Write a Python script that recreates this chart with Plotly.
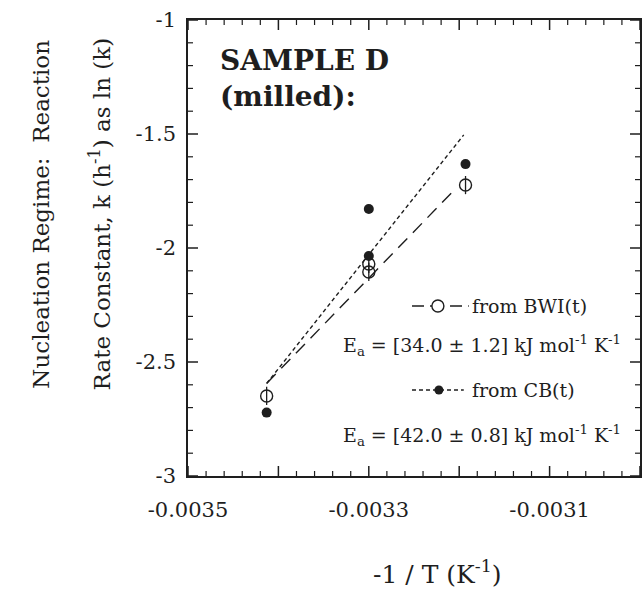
import plotly.graph_objects as go

# ---- data ----
x_bwi = [-0.003413, -0.0033, -0.0033, -0.003193]
y_bwi = [-2.649, -2.070, -2.105, -1.724]

x_cb = [-0.003413, -0.0033, -0.0033, -0.003193]
y_cb = [-2.722, -1.829, -2.035, -1.632]

fit_bwi_x = [-0.003413, -0.003207]
fit_bwi_y = [-2.594, -1.752]
fit_cb_x = [-0.003413, -0.003195]
fit_cb_y = [-2.594, -1.504]

x_labels = {"-0.0035": "-0.0035", "-0.0034": " ", "-0.0033": "-0.0033",
            "-0.0032": " ", "-0.0031": "-0.0031", "-0.0030": " "}
y_labels = ["-3", "-2.5", "-2", "-1.5", "-1"]

MINUS = "\u2212"
x_alias = {}
for k, v in x_labels.items():
    x_alias[k] = v
    x_alias[k.replace("-", MINUS)] = v
y_alias = {}
for v in y_labels:
    y_alias[v] = v
    y_alias[v.replace("-", MINUS)] = v

INK = "#1e1e1e"
FONT = "DejaVu Serif"

fig = go.Figure()
fig.add_trace(go.Scatter(x=fit_bwi_x, y=fit_bwi_y, mode="lines",
                         line=dict(color=INK, width=1.4, dash="13px,8px"),
                         showlegend=False, hoverinfo="skip"))
fig.add_trace(go.Scatter(x=fit_cb_x, y=fit_cb_y, mode="lines",
                         line=dict(color=INK, width=1.4, dash="4px,3px"),
                         showlegend=False, hoverinfo="skip"))
fig.add_trace(go.Scatter(x=x_bwi, y=y_bwi, mode="markers",
                         marker=dict(symbol="circle-open", size=12, color=INK,
                                     line=dict(width=1.4, color=INK)),
                         showlegend=False))
fig.add_trace(go.Scatter(x=x_bwi, y=y_bwi, mode="markers",
                         marker=dict(symbol="line-ns", size=13, color=INK,
                                     line=dict(width=1.3, color=INK)),
                         showlegend=False, hoverinfo="skip"))
fig.add_trace(go.Scatter(x=x_cb, y=y_cb, mode="markers",
                         marker=dict(symbol="circle", size=10, color=INK),
                         showlegend=False))

PL, PR, PT, PB = 188, 642, 20, 476

# legend samples on a hidden overlay axis pair measured in pixels
fig.add_trace(go.Scatter(x=[413, 470], y=[306, 306], mode="lines",
                         line=dict(color=INK, width=1.4, dash="12px,6px,12px,8px"),
                         xaxis="x2", yaxis="y2", showlegend=False, hoverinfo="skip"))
fig.add_trace(go.Scatter(x=[439], y=[306], mode="markers",
                         marker=dict(symbol="circle", size=12, color="white",
                                     line=dict(width=1.4, color=INK)),
                         xaxis="x2", yaxis="y2", showlegend=False, hoverinfo="skip"))
fig.add_trace(go.Scatter(x=[413, 465], y=[390, 390], mode="lines",
                         line=dict(color=INK, width=1.4, dash="4px,3px"),
                         xaxis="x2", yaxis="y2", showlegend=False, hoverinfo="skip"))
fig.add_trace(go.Scatter(x=[440], y=[390], mode="markers",
                         marker=dict(symbol="circle", size=9, color=INK),
                         xaxis="x2", yaxis="y2", showlegend=False, hoverinfo="skip"))

# tick marks drawn as shapes on the axis scales (inside, mirrored on all sides)
x_major = [round(-0.0035 + i * 0.0001, 6) for i in range(6)]
x_minor = [round(-0.0035 + i * 0.00002, 6) for i in range(26)]
y_major = [round(-3 + i * 0.5, 3) for i in range(5)]
y_minor = [round(-3 + i * 0.1, 3) for i in range(21)]

def xtick(v, ln, w):
    for anchor, sgn in ((0, 1), (1, -1)):
        fig.add_shape(type="line", xref="x", yref="paper", x0=v, x1=v,
                      ysizemode="pixel", yanchor=anchor, y0=0, y1=sgn * ln,
                      line=dict(color=INK, width=w))

def ytick(v, ln, w):
    for anchor, sgn in ((0, 1), (1, -1)):
        fig.add_shape(type="line", yref="y", xref="paper", y0=v, y1=v,
                      xsizemode="pixel", xanchor=anchor, x0=0, x1=sgn * ln,
                      line=dict(color=INK, width=w))

for v in x_minor:
    if v in x_major:
        xtick(v, 10, 1.5)
    else:
        xtick(v, 5, 1.2)
for v in y_minor:
    if v in y_major:
        ytick(v, 10, 1.5)
    else:
        ytick(v, 5, 1.2)

def px(x):
    return (x - PL) / (PR - PL)
def py(y):
    return (PB - y) / (PB - PT)

def ann(text, x, y, size, xanchor="left", yanchor="middle", angle=0, align="left"):
    fig.add_annotation(text=text, xref="paper", yref="paper", x=x, y=y,
                       xanchor=xanchor, yanchor=yanchor, showarrow=False,
                       textangle=angle, align=align,
                       font=dict(family=FONT, size=size, color=INK))

ann("<b>SAMPLE D</b><br><b>(milled):</b>", px(218), py(42), 28, yanchor="top")
ann("from BWI(t)", px(471), py(306), 19)
ann("E<sub>a</sub> = [34.0 ± 1.2] kJ mol<sup>-1</sup> K<sup>-1</sup>", px(483), py(345), 19, xanchor="center")
ann("from CB(t)", px(471), py(390), 19)
ann("E<sub>a</sub> = [42.0 ± 0.8] kJ mol<sup>-1</sup> K<sup>-1</sup>", px(483), py(435), 19, xanchor="center")

ann("Nucleation Regime:  Reaction", px(40), py(214), 23, xanchor="center", angle=-90)
ann("Rate Constant, k (h<sup>-1</sup>) as ln (k)", px(100), py(214), 23, xanchor="center", angle=-90)
ann("-1 / T (K<sup>-1</sup>)", px(439), py(572), 25, xanchor="center")

axis_common = dict(showline=True, linecolor=INK, linewidth=1.5, mirror=True,
                   ticks="", showgrid=False, zeroline=False,
                   tickfont=dict(family=FONT, size=21, color=INK))

fig.update_layout(
    xaxis=dict(range=[-0.0035, -0.0030], tickmode="linear", tick0=-0.0035, dtick=0.0001,
               tickformat=".4f", labelalias=x_alias, ticklabelstandoff=14,
               **axis_common),
    yaxis=dict(range=[-3, -1], tickmode="linear", tick0=-3, dtick=0.5,
               labelalias=y_alias, ticklabelstandoff=6,
               **axis_common),
    xaxis2=dict(range=[PL, PR], overlaying="x", visible=False, anchor="y2"),
    yaxis2=dict(range=[PB, PT], overlaying="y", visible=False, anchor="x2"),
    width=644, height=592,
    margin=dict(l=PL, r=644 - PR, t=PT, b=592 - PB),
    paper_bgcolor="white", plot_bgcolor="white",
    showlegend=False)

fig.write_html("out.html")
